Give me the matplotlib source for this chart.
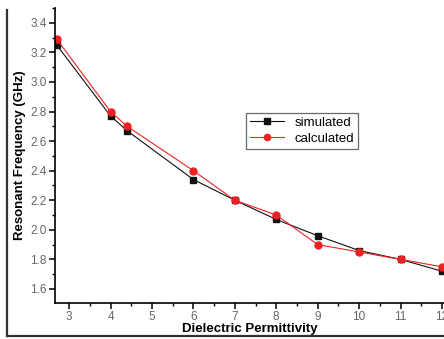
import matplotlib
matplotlib.use("Agg")
import matplotlib.pyplot as plt
from matplotlib.ticker import MultipleLocator
from matplotlib.lines import Line2D

# values
permittivity = [2.7, 4.0, 4.4, 6.0, 7.0, 8.0, 9.0, 10.0, 11.0, 12.0]
simulated = [3.25, 2.77, 2.67, 2.34, 2.20, 2.07, 1.96, 1.86, 1.80, 1.72]
calculated = [3.29, 2.80, 2.70, 2.40, 2.20, 2.10, 1.90, 1.85, 1.80, 1.75]

plt.rcParams['font.family'] = ['Liberation Sans', 'DejaVu Sans']

fig = plt.figure(figsize=(4.44, 3.39), dpi=100)
ax = fig.add_axes([55/444, 36/339, 389/444, 295/339])

ax.plot(permittivity, simulated, color='#111111', lw=0.8, marker='s', ms=4.5,
        label='simulated')
ax.plot(permittivity, calculated, color='#ee2222', lw=0.8, marker='o', ms=5,
        label='calculated')

ax.set_xlim(2.66, 12.05)
ax.set_ylim(1.505, 3.5)
ax.xaxis.set_major_locator(MultipleLocator(1))
ax.xaxis.set_minor_locator(MultipleLocator(0.5))
ax.yaxis.set_major_locator(MultipleLocator(0.2))
ax.yaxis.set_minor_locator(MultipleLocator(0.1))
ax.yaxis.set_major_formatter(matplotlib.ticker.FormatStrFormatter('%.1f'))

for s in ['top', 'right']:
    ax.spines[s].set_visible(False)
for s in ['left', 'bottom']:
    ax.spines[s].set_linewidth(1.2)
ax.tick_params(which='major', direction='out', length=4, width=1.1,
               labelsize=8.5, labelcolor='#666666', pad=2)
ax.tick_params(which='minor', direction='out', length=2.5, width=1.0)

ax.set_xlabel('Dielectric Permittivity', fontsize=9.5, fontweight='bold', labelpad=0)
ax.set_ylabel('Resonant Frequency (GHz)', fontsize=9.5, fontweight='bold', labelpad=3)

leg = ax.legend(loc='upper left', bbox_to_anchor=(0.473, 0.667), fontsize=9.5,
                frameon=True, fancybox=False, handlelength=2.6,
                borderpad=0.3, labelspacing=0.25, markerscale=0.9)
leg.get_frame().set_edgecolor('#444444')
leg.get_frame().set_linewidth(0.9)

# cropped outer frame: only left and bottom edges visible
fig.add_artist(Line2D([7/444, 7/444], [3/339, 329/339], transform=fig.transFigure,
                      color='#333333', lw=1.6))
fig.add_artist(Line2D([7/444, 1.0], [3/339, 3/339], transform=fig.transFigure,
                      color='#333333', lw=1.6))

fig.savefig('out.png', dpi=100)
